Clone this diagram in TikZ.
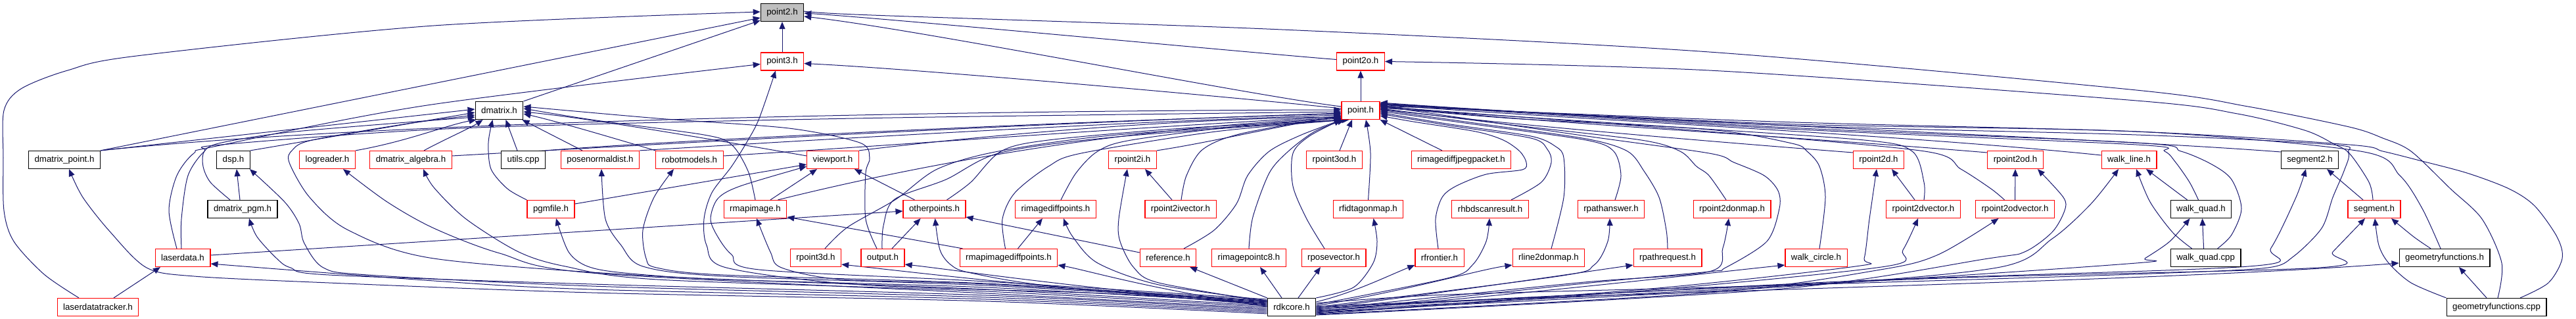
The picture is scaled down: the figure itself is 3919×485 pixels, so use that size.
\documentclass[tikz,border=0pt]{standalone}
\usepackage{fontspec}
\setmainfont{Liberation Sans}
\usetikzlibrary{arrows.meta,calc}
\definecolor{edgec}{HTML}{191970}
\definecolor{redc}{HTML}{FF0000}
\definecolor{grayc}{HTML}{BFBFBF}
\pgfdeclarelayer{bg}
\pgfsetlayers{bg,main}
\tikzset{
  box/.style={rectangle, draw, fill=white, line width=0.6pt, minimum height=13.5pt, inner xsep=4.5pt, inner ysep=0pt, font=\fontsize{6.65}{7}\selectfont, text=black},
  bbox/.style={box, draw=black},
  rbox/.style={box, draw=redc},
  edg/.style={draw=edgec, line width=0.5pt, -{Triangle[length=5.5pt,width=4.5pt]}},
  sm/.style={smooth, tension=0.5}
}
\begin{document}
\begin{tikzpicture}[x=0.5pt,y=-0.5pt]
\useasboundingbox (0,0) rectangle (3919,485);
% nodes
\node[bbox, fill=grayc] (p2) at (1190,19) {point2.h};
\node[rbox] (p3) at (1190,93.5) {point3.h};
\node[rbox] (p2o) at (2070,93.5) {point2o.h};
\node[bbox] (dm) at (759.5,168) {dmatrix.h};
\node[rbox] (pt) at (2070,168) {point.h};
% row 3
\node[bbox] (dmp) at (98,243) {dmatrix\_point.h};
\node[bbox] (dsp) at (355,243) {dsp.h};
\node[rbox] (logr) at (498,243) {logreader.h};
\node[rbox] (dma) at (625,243) {dmatrix\_algebra.h};
\node[bbox] (utl) at (796,243) {utils.cpp};
\node[rbox] (pnd) at (913,243) {posenormaldist.h};
\node[rbox] (rbm) at (1049,243) {robotmodels.h};
\node[rbox] (vp) at (1267,243) {viewport.h};
\node[rbox] (rp2i) at (1723,243) {rpoint2i.h};
\node[rbox] (rp3od) at (2030,243) {rpoint3od.h};
\node[rbox] (rjpg) at (2223,243) {rimagediffjpegpacket.h};
\node[rbox] (rp2d) at (2858,243) {rpoint2d.h};
\node[rbox] (rp2od) at (3066,243) {rpoint2od.h};
\node[rbox] (wl) at (3239,243) {walk\_line.h};
\node[bbox] (sg2) at (3514,243) {segment2.h};
% row 4
\node[bbox] (dpgm) at (369,318) {dmatrix\_pgm.h};
\node[rbox] (pgm) at (838,318) {pgmfile.h};
\node[rbox] (rmi) at (1149,318) {rmapimage.h};
\node[rbox] (op) at (1421.5,318) {otherpoints.h};
\node[rbox] (ridp) at (1606,318) {rimagediffpoints.h};
\node[rbox] (rp2iv) at (1796,318) {rpoint2ivector.h};
\node[rbox] (rfid) at (2081.5,318) {rfidtagonmap.h};
\node[rbox] (rhbd) at (2267,318) {rhbdscanresult.h};
\node[rbox] (rpa) at (2451,318) {rpathanswer.h};
\node[rbox] (rp2dm) at (2635,318) {rpoint2donmap.h};
\node[rbox] (rp2dv) at (2926,318) {rpoint2dvector.h};
\node[rbox] (rp2odv) at (3065.5,318) {rpoint2odvector.h};
\node[bbox] (wq) at (3348.5,318) {walk\_quad.h};
\node[rbox] (sg) at (3612,318) {segment.h};
% row 5
\node[rbox] (ld) at (278,392) {laserdata.h};
\node[rbox] (rp3d) at (1241,392) {rpoint3d.h};
\node[rbox] (out) at (1343,392) {output.h};
\node[rbox] (rmidp) at (1534.5,392) {rmapimagediffpoints.h};
\node[rbox] (ref) at (1777,392) {reference.h};
\node[rbox] (rpc8) at (1900,392) {rimagepointc8.h};
\node[rbox] (rpv) at (2029,392) {rposevector.h};
\node[rbox] (rfr) at (2190,392) {rfrontier.h};
\node[rbox] (rl2) at (2356,392) {rline2donmap.h};
\node[rbox] (rpr) at (2537,392) {rpathrequest.h};
\node[rbox] (wc) at (2763,392) {walk\_circle.h};
\node[bbox] (wqc) at (3355.6,392) {walk\_quad.cpp};
\node[bbox] (gfh) at (3719,392) {geometryfunctions.h};
% row 6
\node[rbox] (ldt) at (149,467) {laserdatatracker.h};
\node[bbox] (rdk) at (1965,467) {rdkcore.h};
\node[bbox] (gfc) at (3798,467) {geometryfunctions.cpp};

\begin{pgfonlayer}{bg}
% ---- into point2.h
\draw[edg] plot[sm] coordinates {($(ldt.north)+(-29,0)$) (67,417) (21,367) (6,320) (5,240) (6,168) (32,135) (103,107) (208,85) (660,39) ($(p2.west)+(0,-1)$)};
\draw[edg] (dmp.north east) -- ($(p2.west)+(0,8)$);
\draw[edg] (dm.north east) -- ($(p2.west)+(0,12)$);
\draw[edg] (p3.north) -- (p2.south);
\draw[edg] ($(pt.west)+(0,-6)$) .. controls (1900,145) and (1400,45) .. ($(p2.east)+(0,6)$);
\draw[edg] ($(p2o.west)+(0,-3)$) .. controls (1900,80) and (1350,28) .. ($(p2.east)+(0,1)$);
\draw[edg] plot[sm] coordinates {($(gfc.north)+(2,0)$) (3806,400) (3776,333) (3728,287) (3668,230) (3625,210) (3574,193) (3420,162) (3250,137) (2600,79) (1950,45) (1300,22) ($(p2.east)+(0,-4)$)};
% ---- point2o.h
\draw[edg] (pt.north) -- (p2o.south);
\draw[edg] plot[sm] coordinates {($(rdk.east)+(0,-6)$) (2200,448) (2600,437) (3000,425) (3300,415) (3450,407) (3489,390) (3532,347) (3549,300) (3566,260) (3573,233) (3549,218) (3506,198) (3404,173) (3250,153) (2600,107) (p2o.east)};
% ---- point3.h
\draw[edg] ($(pt.west)+(0,-3)$) .. controls (1900,150) and (1400,105) .. ($(p3.east)+(0,3)$);
\draw[edg] plot[sm] coordinates {($(ld.north)+(-9,0)$) (257,320) (269,267) (295,233) (330,222) (650,160) ($(p3.west)+(0,4)$)};
\draw[edg] plot[sm] coordinates {($(rdk.west)+(0,-4)$) (1700,447) (1310,433) (1105,407) (1075,373) (1071,333) (1083,293) (1113,253) (1138,213) (1155,180) ($(p3.south)+(-10,0)$)};
% ---- dmatrix.h and left group
\draw[edg] (dmp.north east) -- ($(dm.west)+(0,-2)$);
\draw[edg] (dmp.north east) .. controls (600,182) and (1500,168) .. ($(pt.west)+(0,-1)$);
\draw[edg] (dsp.north east) -- ($(dm.west)+(0,3)$);
\draw[edg] ($(dpgm.north)+(-4,0)$) -- ($(dsp.south)+(5,0)$);
\draw[edg] plot[sm] coordinates {($(dpgm.north)+(-19,0)$) (320,277) (309,253) (311,230) (337,217) (450,200) ($(dm.west)+(0,10)$)};
\draw[edg] (logr.north east) .. controls (620,215) and (680,190) .. ($(dm.south west)+(2,0)$);
\draw[edg] ($(dma.north)+(20,0)$) .. controls (670,215) and (715,195) .. ($(dm.south west)+(12,0)$);
\draw[edg] ($(dma.east)+(0,-6)$) .. controls (900,225) and (1500,190) .. ($(pt.west)+(0,4)$);
\draw[edg] ($(utl.north)+(-9,0)$) -- ($(dm.south)+(10,0)$);
\draw[edg] (utl.north east) .. controls (1000,215) and (1600,185) .. ($(pt.west)+(0,5)$);
\draw[edg] ($(pnd.north)+(-27,0)$) -- ($(dm.south east)+(-2,0)$);
\draw[edg] (pnd.north east) .. controls (1200,215) and (1700,185) .. ($(pt.west)+(0,7)$);
\draw[edg] (rbm.north west) .. controls (950,215) and (850,185) .. ($(dm.east)+(0,5)$);
\draw[edg] ($(rbm.east)+(0,-6)$) .. controls (1300,225) and (1700,195) .. ($(pt.west)+(0,9)$);
\draw[edg] ($(vp.west)+(0,-6)$) .. controls (1100,215) and (900,180) .. ($(dm.east)+(0,2)$);
\draw[edg] (vp.north east) .. controls (1500,205) and (1800,180) .. ($(pt.west)+(0,10)$);
\draw[edg] plot[sm] coordinates {(pgm.north west) (772,287) (747,257) (743,217) ($(dm.south)+(-10,0)$)};
\draw[edg] ($(pgm.east)+(0,-8)$) -- ($(vp.west)+(0,7)$);
\draw[edg] plot[sm] coordinates {(rmi.north) (1138,260) (1113,220) (1071,205) (900,182) ($(dm.east)+(0,-3)$)};
\draw[edg] ($(rmi.north)+(23,0)$) -- ($(vp.south)+(-24,0)$);
\draw[edg] ($(rmi.north east)+(-14,0)$) .. controls (1400,250) and (1700,195) .. ($(pt.west)+(0,11)$);
\draw[edg] ($(op.north)+(-30,0)$) -- ($(vp.south east)+(-7,0)$);
\draw[edg] plot[sm] coordinates {($(op.north)+(19,0)$) (1477,277) (1523,230) (1595,213) (1800,195) ($(pt.south west)+(6,0)$)};
\draw[edg] ($(ld.east)+(0,-4)$) -- ($(op.west)+(0,3)$);
\draw[edg] plot[sm] coordinates {($(ld.north)+(-2,0)$) (276,333) (286,267) (311,230) (337,220) (700,195) (1300,180) ($(pt.west)+(0,2)$)};
\draw[edg] ($(ldt.north)+(24,0)$) -- ($(ld.south)+(-34,0)$);
% ---- rdkcore.h to the left
\draw[edg] plot[sm] coordinates {($(rdk.west)+(0,8)$) (1500,455) (900,440) (660,427) ($(ld.east)+(0,9)$)};
\draw[edg] plot[sm] coordinates {($(rdk.west)+(0,10)$) (1500,458) (900,445) (500,430) (295,420) (223,407) (168,353) (126,300) ($(dmp.south)+(7,0)$)};
\draw[edg] plot[sm] coordinates {($(rdk.west)+(0,6)$) (1500,452) (900,435) (560,418) (492,407) (463,370) (455,340) (433,307) ($(dsp.south east)+(-1,0)$)};
\draw[edg] plot[sm] coordinates {($(rdk.west)+(0,4)$) (1500,449) (900,432) (500,418) (442,407) (421,393) (391,360) ($(dpgm.south)+(10,0)$)};
\draw[edg] plot[sm] coordinates {($(rdk.west)+(0,2)$) (1500,446) (900,415) (760,385) (660,347) (589,307) ($(logr.south)+(24,0)$)};
\draw[edg] plot[sm] coordinates {($(rdk.west)+(0,0)$) (1500,443) (1000,425) (860,405) (789,383) (709,333) (660,285) ($(dma.south)+(19,0)$)};
\draw[edg] plot[sm] coordinates {($(rdk.west)+(0,-2)$) (1500,440) (1000,420) (660,393) (530,350) (471,300) (440,247) (445,228) (475,213) (620,188) ($(dm.west)+(0,7)$)};
\draw[edg] plot[sm] coordinates {($(rdk.west)+(0,-6)$) (1500,437) (1100,425) (950,415) (894,405) (865,383) ($(pgm.south)+(8,0)$)};
\draw[edg] plot[sm] coordinates {($(rdk.west)+(0,-8)$) (1500,434) (1100,420) (978,405) (945,373) (921,333) ($(pnd.south)+(2,0)$)};
\draw[edg] plot[sm] coordinates {($(rdk.west)+(0,-10)$) (1500,431) (1100,418) (999,407) (983,393) (978,350) (995,300) ($(rbm.south)+(-24,0)$)};
\draw[edg] plot[sm] coordinates {($(rdk.west)+(0,-12)$) (1500,428) (1155,410) (1113,387) (1092,360) (1081,333) (1092,302) (1126,283) ($(vp.west)+(0,10)$)};
\draw[edg] plot[sm] coordinates {($(rdk.west)+(0,-9)$) (1500,432) (1281,425) (1189,407) (1172,383) ($(rmi.south)+(2,0)$)};
\draw[edg] ($(rdk.west)+(0,-7)$) .. controls (1600,440) and (1400,415) .. ($(rp3d.east)+(0,10)$);
\draw[edg] plot[sm] coordinates {($(rp3d.north)+(14,0)$) (1290,345) (1363,303) (1426,257) (1519,230) (1700,205) ($(pt.south west)+(12,0)$)};
\draw[edg] ($(rdk.west)+(0,-5)$) .. controls (1650,440) and (1450,410) .. ($(out.east)+(0,10)$);
\draw[edg] plot[sm] coordinates {($(rdk.west)+(0,-3)$) (1600,435) (1477,415) (1447,403) (1430,380) ($(op.south)+(1,0)$)};
\draw[edg] ($(out.north)+(14,0)$) -- ($(op.south)+(-21,0)$);
\draw[edg] plot[sm] coordinates {($(out.north)+(-1,0)$) (1344,343) (1361,303) (1439,273) (1523,232) (1700,208) ($(pt.south west)+(3,0)$)};
\draw[edg] plot[sm] coordinates {($(out.north)+(-9,0)$) (1317,333) (1317,263) (1323,240) (1308,217) (1200,195) (1000,180) ($(dm.east)+(0,-6)$)};
\draw[edg] ($(rmidp.north)+(-70,0)$) -- ($(rmi.east)+(0,12)$);
\draw[edg] ($(rmidp.north)+(14,0)$) -- ($(ridp.south)+(-20,0)$);
\draw[edg] plot[sm] coordinates {($(rmidp.north)+(-5,0)$) (1525,333) (1544,293) (1595,253) (1645,233) (1850,200) ($(pt.south west)+(9,0)$)};
\draw[edg] ($(rdk.west)+(0,-1)$) .. controls (1750,440) and (1650,410) .. ($(rmidp.east)+(0,11)$);
\draw[edg] plot[sm] coordinates {($(ridp.north)+(8,0)$) (1637,263) (1670,230) (1721,213) (1900,190) ($(pt.west)+(0,12)$)};
\draw[edg] plot[sm] coordinates {($(rdk.north west)+(0,4)$) (1763,433) (1670,400) (1632,360) ($(ridp.south)+(12,0)$)};
\draw[edg] (rp2i.north east) .. controls (1850,215) and (1950,190) .. ($(pt.west)+(0,9)$);
\draw[edg] plot[sm] coordinates {($(rdk.north west)+(0,6)$) (1763,430) (1725,407) (1704,367) (1702,333) ($(rp2i.south)+(-8,0)$)};
\draw[edg] ($(rp2iv.north)+(-13,0)$) -- ($(rp2i.south)+(19,0)$);
\draw[edg] plot[sm] coordinates {($(rp2iv.north)+(1,0)$) (1805,267) (1830,227) (1889,203) ($(pt.west)+(0,8)$)};
\draw[edg] ($(ref.west)+(0,-8)$) -- ($(op.east)+(0,12)$);
\draw[edg] plot[sm] coordinates {($(ref.north)+(24,0)$) (1847,350) (1881,310) (1898,267) (1931,230) (1980,205) ($(pt.south west)+(1,0)$)};
\draw[edg] (rdk.north west) -- ($(ref.south east)+(-10,0)$);
\draw[edg] plot[sm] coordinates {(rpc8.north) (1906,330) (1931,263) (1960,230) (2000,200) ($(pt.south west)+(5,0)$)};
\draw[edg] ($(rdk.north)+(-15,0)$) -- ($(rpc8.south)+(17,0)$);
\draw[edg] plot[sm] coordinates {($(rpv.north)+(-14,0)$) (1988,333) (1967,283) (1967,233) (1992,207) (pt.south west)};
\draw[edg] ($(rdk.north)+(10,0)$) -- ($(rpv.south)+(-20,0)$);
% ---- point.h from below / right
\draw[edg] ($(rp3od.north)+(8,0)$) -- ($(pt.south)+(-13,0)$);
\draw[edg] ($(rjpg.north)+(-29,0)$) -- (pt.south east);
\draw[edg] plot[sm] coordinates {(rfid.north) (2085,233) ($(pt.south)+(8,0)$)};
\draw[edg] plot[sm] coordinates {(rdk.north east) (2059,437) (2089,400) (2095,367) ($(rfid.south)+(8,0)$)};
\draw[edg] ($(rdk.east)+(0,-8)$) .. controls (2060,445) and (2110,420) .. ($(rfr.west)+(0,11)$);
\draw[edg] plot[sm] coordinates {($(rfr.north)+(-2,0)$) (2184,333) (2194,300) (2215,283) (2261,265) (2316,258) (2322,247) (2312,230) (2287,213) (2245,200) (2150,185) ($(pt.east)+(0,8)$)};
\draw[edg] plot[sm] coordinates {($(rhbd.north)+(32,0)$) (2345,277) (2360,247) (2354,227) (2329,210) (2200,190) ($(pt.east)+(0,5)$)};
\draw[edg] plot[sm] coordinates {($(rdk.east)+(0,-4)$) (2202,423) (2240,403) (2261,367) ($(rhbd.south)+(-1,0)$)};
\draw[edg] plot[sm] coordinates {($(rl2.north)+(4,0)$) (2379,300) (2379,240) (2367,223) (2329,207) (2200,188) ($(pt.east)+(0,3)$)};
\draw[edg] ($(rdk.east)+(0,-2)$) .. controls (2150,440) and (2250,410) .. ($(rl2.west)+(0,11)$);
\draw[edg] plot[sm] coordinates {($(rpa.north)+(6,0)$) (2466,267) (2455,230) (2413,213) (2250,190) ($(pt.east)+(0,1)$)};
\draw[edg] plot[sm] coordinates {(rdk.east) (2371,420) (2425,403) (2446,367) ($(rpa.south)+(-2,0)$)};
\draw[edg] plot[sm] coordinates {(rpr.north) (2535,350) (2524,300) (2501,260) (2476,230) (2413,211) (2250,188) ($(pt.east)+(0,-1)$)};
\draw[edg] ($(rdk.east)+(0,2)$) .. controls (2200,445) and (2400,415) .. ($(rpr.west)+(0,11)$);
\draw[edg] plot[sm] coordinates {($(rp2dm.north)+(-9,0)$) (2600,267) (2581,253) (2556,230) (2497,213) (2300,190) ($(pt.east)+(0,-3)$)};
\draw[edg] plot[sm] coordinates {($(rdk.east)+(0,4)$) (2400,430) (2600,413) (2621,377) ($(rp2dm.south)+(-5,0)$)};
\draw[edg] plot[sm] coordinates {($(wc.north)+(5,0)$) (2777,300) (2768,253) (2749,230) (2726,218) (2600,197) (2300,180) ($(pt.east)+(0,-5)$)};
\draw[edg] ($(rdk.east)+(0,6)$) .. controls (2300,450) and (2600,415) .. ($(wc.west)+(0,11)$);
\draw[edg] plot[sm] coordinates {($(rdk.east)+(0,8)$) (2400,432) (2600,413) (2625,407) (2688,367) (2707,317) (2705,290) (2684,267) (2638,247) (2600,233) (2400,205) ($(pt.east)+(0,-7)$)};
\draw[edg] ($(rp2d.west)+(0,-11)$) .. controls (2600,215) and (2300,190) .. ($(pt.east)+(0,-2)$);
\draw[edg] plot[sm] coordinates {($(rdk.east)+(0,9)$) (2500,440) (2823,405) (2836,393) (2844,333) ($(rp2d.south)+(-3,0)$)};
\draw[edg] ($(rp2dv.north)+(-13,0)$) -- ($(rp2d.south)+(20,0)$);
\draw[edg] plot[sm] coordinates {($(rp2dv.north)+(1,0)$) (2927,277) (2909,230) (2836,213) (2500,190) ($(pt.east)+(0,-4)$)};
\draw[edg] plot[sm] coordinates {($(rdk.east)+(0,10)$) (2500,442) (2869,405) (2895,380) ($(rp2dv.south)+(-8,0)$)};
\draw[edg] (rp2odv.north) -- (rp2od.south);
\draw[edg] plot[sm] coordinates {($(rp2odv.north)+(-16,0)$) (3029,287) (2983,257) (2928,230) (2600,200) ($(pt.east)+(0,-6)$)};
\draw[edg] plot[sm] coordinates {($(rdk.east)+(0,11)$) (2600,445) (2861,410) (2949,387) ($(rp2odv.south)+(-25,0)$)};
\draw[edg] ($(rp2od.west)+(0,-11)$) .. controls (2700,205) and (2300,185) .. ($(pt.east)+(0,-8)$);
\draw[edg] plot[sm] coordinates {($(rdk.east)+(0,12)$) (2700,440) (3025,393) (3080,383) (3122,353) (3141,320) (3139,300) ($(rp2od.south east)+(-9,0)$)};
\draw[edg] ($(wl.west)+(0,-7)$) .. controls (2900,205) and (2400,182) .. ($(pt.east)+(0,-9)$);
\draw[edg] plot[sm] coordinates {($(rdk.east)+(0,7)$) (2700,437) (3038,407) (3122,363) (3181,310) ($(wl.south)+(-16,0)$)};
\draw[edg] ($(wq.north)+(-21,0)$) -- ($(wl.south)+(26,0)$);
\draw[edg] plot[sm] coordinates {($(wq.north)+(-4,0)$) (3331,277) (3310,247) (3293,230) (3250,220) (2700,195) ($(pt.east)+(0,-10)$)};
\draw[edg] plot[sm] coordinates {($(rdk.east)+(0,5)$) (2800,430) (3250,400) (3263,393) (3301,367) ($(wq.south)+(-17,0)$)};
\draw[edg] plot[sm] coordinates {($(wqc.north)+(-21,0)$) (3305,353) (3271,307) ($(wl.south)+(11,0)$)};
\draw[edg] ($(wqc.north)+(-3,0)$) -- ($(wq.south)+(2,0)$);
\draw[edg] plot[sm] coordinates {($(wqc.north)+(18,0)$) (3395,357) (3410,317) (3395,273) (3365,250) (3318,230) (3250,217) (2700,193) ($(pt.east)+(0,-11)$)};
\draw[edg] ($(sg2.west)+(0,-12)$) .. controls (3200,210) and (2500,185) .. ($(pt.east)+(0,-12)$);
\draw[edg] plot[sm] coordinates {($(rdk.east)+(0,3)$) (2800,428) (3421,405) (3455,377) (3493,300) ($(sg2.south)+(-6,0)$)};
\draw[edg] ($(sg.north)+(-17,0)$) -- ($(sg2.south)+(26,0)$);
\draw[edg] plot[sm] coordinates {($(sg.north)+(-2,0)$) (3604,277) (3574,233) (3549,220) (3250,205) (2700,190) ($(pt.east)+(0,-10)$)};
\draw[edg] plot[sm] coordinates {($(rdk.east)+(0,1)$) (2900,425) (3527,407) (3549,383) ($(sg.south)+(-14,0)$)};
\draw[edg] plot[sm] coordinates {($(gfh.north)+(-21,0)$) (3672,360) ($(sg.south)+(26,0)$)};
\draw[edg] plot[sm] coordinates {($(gfh.north)+(-6,0)$) (3685,317) (3651,267) (3591,230) (3250,200) (2700,188) ($(pt.east)+(0,-9)$)};
\draw[edg] ($(rdk.east)+(0,-1)$) .. controls (2600,440) and (3300,427) .. ($(gfh.west)+(0,8)$);
\draw[edg] plot[sm] coordinates {(gfc.north west) (3668,430) (3634,400) (3619,373) ($(sg.south)+(1,0)$)};
\draw[edg] ($(gfc.north)+(-15,0)$) -- ($(gfh.south)+(22,0)$);
\draw[edg] plot[sm] coordinates {($(gfc.north)+(36,0)$) (3877,430) (3898,393) (3890,360) (3856,313) (3817,287) (3753,263) (3677,243) (3625,230) (3574,220) (3250,200) (2700,185) ($(pt.east)+(0,-7)$)};
\end{pgfonlayer}
\end{tikzpicture}
\end{document}
